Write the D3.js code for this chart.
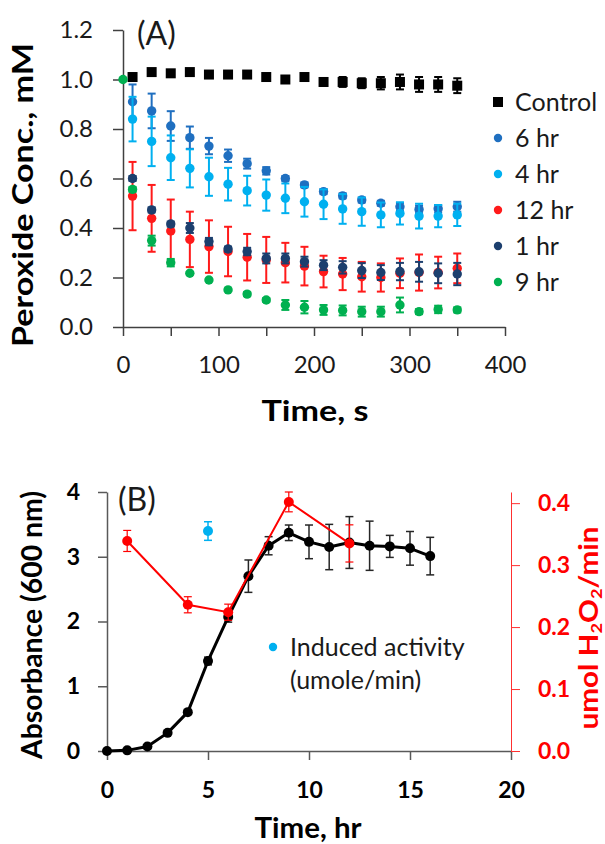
<!DOCTYPE html>
<html>
<head>
<meta charset="utf-8">
<script src="https://cdn.jsdelivr.net/npm/d3@7"></script>
<style>
  body { margin: 0; background: #fff; }
  svg { display: block; font-family: Lato, "Open Sans", sans-serif; }
</style>
</head>
<body>
<svg width="605" height="844"></svg>
<script>
// ---- panel A data: peroxide concentration (mM) vs time (s) ----
var timesA = [10, 30, 50, 70, 90, 110, 130, 150, 170, 190, 210, 230, 250, 270, 290, 310, 330, 350];
var controlVals = [1.01, 1.03, 1.025, 1.03, 1.02, 1.02, 1.02, 1.01, 1.00, 1.01, 0.99, 0.99, 0.985, 0.985, 0.99, 0.98, 0.98, 0.975];
var controlErr  = [0.005, 0.005, 0.005, 0.005, 0.005, 0.005, 0.005, 0.008, 0.012, 0.012, 0.015, 0.02, 0.02, 0.025, 0.03, 0.03, 0.03, 0.03];
var hr6Vals = [0.91, 0.873, 0.812, 0.765, 0.731, 0.692, 0.66, 0.631, 0.60, 0.574, 0.547, 0.53, 0.513, 0.50, 0.486, 0.475, 0.478, 0.486];
var hr6Err  = [0.07, 0.07, 0.06, 0.045, 0.033, 0.025, 0.02, 0.015, 0.01, 0.01, 0.01, 0.01, 0.01, 0.01, 0.015, 0.015, 0.015, 0.02];
var hr4Vals = [0.84, 0.75, 0.684, 0.641, 0.607, 0.577, 0.551, 0.533, 0.52, 0.506, 0.496, 0.477, 0.466, 0.453, 0.459, 0.448, 0.448, 0.453];
var hr4Err  = [0.09, 0.1, 0.09, 0.077, 0.077, 0.066, 0.06, 0.063, 0.06, 0.06, 0.06, 0.06, 0.057, 0.05, 0.045, 0.05, 0.045, 0.045];
var hr12Vals = [0.529, 0.439, 0.388, 0.354, 0.325, 0.305, 0.282, 0.271, 0.26, 0.246, 0.224, 0.214, 0.203, 0.2, 0.217, 0.22, 0.22, 0.237];
var hr12Err  = [0.138, 0.135, 0.127, 0.112, 0.106, 0.1, 0.094, 0.093, 0.08, 0.078, 0.064, 0.065, 0.06, 0.057, 0.06, 0.073, 0.064, 0.06];
var hr1Vals = [0.60, 0.473, 0.416, 0.40, 0.345, 0.315, 0.305, 0.277, 0.277, 0.264, 0.25, 0.241, 0.228, 0.22, 0.224, 0.223, 0.217, 0.214];
var hr1Err  = [0.01, 0.01, 0.01, 0.02, 0.015, 0.01, 0.015, 0.02, 0.02, 0.02, 0.02, 0.025, 0.03, 0.03, 0.035, 0.04, 0.04, 0.045];
// 9 hr also has the starting point at t = 0
var times9 = [0, 10, 30, 50, 70, 90, 110, 130, 150, 170, 190, 210, 230, 250, 270, 290, 310, 330, 350];
var hr9Vals = [1.0, 0.556, 0.349, 0.26, 0.217, 0.19, 0.15, 0.133, 0.109, 0.089, 0.08, 0.069, 0.067, 0.062, 0.062, 0.089, 0.062, 0.071, 0.069];
var hr9Err  = [0, 0.01, 0.02, 0.015, 0.005, 0.005, 0.005, 0.008, 0.008, 0.02, 0.025, 0.02, 0.02, 0.02, 0.02, 0.03, 0.01, 0.015, 0.01];

var legendA = ["Control", "6 hr", "4 hr", "12 hr", "1 hr", "9 hr"];
var ticksAx = [0, 50, 100, 150, 200, 250, 300, 350, 400];
var ticksAy = [0, 0.2, 0.4, 0.6, 0.8, 1.0, 1.2];

// ---- panel B data: growth (absorbance) and activity vs time (hr) ----
var timesB = [0, 1, 2, 3, 4, 5, 6, 7, 8, 9, 10, 11, 12, 13, 14, 15, 16];
var absorbVals = [0, 0.01, 0.07, 0.28, 0.6, 1.39, 2.07, 2.70, 3.17, 3.37, 3.23, 3.15, 3.22, 3.17, 3.16, 3.13, 3.01];
var absorbErr  = [0, 0, 0, 0.02, 0.03, 0.06, 0.08, 0.25, 0.14, 0.12, 0.26, 0.35, 0.4, 0.38, 0.17, 0.26, 0.29];
var activityTimes = [1, 4, 6, 9, 12];
var activityVals = [0.339, 0.236, 0.224, 0.402, 0.335];
var activityErr  = [0.017, 0.013, 0.013, 0.016, 0.03];
var inducedTimes = [5];
var inducedVals = [0.355];
var inducedErr  = [0.015];

var ticksBx = [0, 5, 10, 15, 20];
var ticksBy = [0, 1, 2, 3, 4];
var ticksBr = [0, 0.1, 0.2, 0.3, 0.4];

function main()
{
  var svg = d3.select("svg");

  // =========================== panel A ===========================
  var xA = d3.scaleLinear().domain([0, 400]).range([123, 505]);
  var yA = d3.scaleLinear().domain([0, 1.2]).range([327, 30]);

  var axisColor = "#404040";

  // y axis
  var gyA = svg.append("g")
    .attr("transform", "translate(123,0)")
    .call(d3.axisLeft(yA).tickValues(ticksAy).tickSize(10).tickSizeOuter(0).tickPadding(20)
      .tickFormat(d3.format(".1f")));
  // x axis, ticks every 50 but labels only every 100
  var gxA = svg.append("g")
    .attr("transform", "translate(0,327)")
    .call(d3.axisBottom(xA).tickValues(ticksAx).tickSize(9).tickSizeOuter(0).tickPadding(20)
      .tickFormat(function (d) { return d % 100 === 0 ? d : ""; }));
  [gyA, gxA].forEach(function (g) {
    g.select(".domain").attr("stroke", axisColor).attr("stroke-width", 1.5);
    g.selectAll(".tick line").attr("stroke", axisColor).attr("stroke-width", 1.5);
    g.selectAll("text").attr("font-size", 24).attr("fill", "#1a1a1a").attr("font-family", "Lato");
  });

  // series in legend order, later ones drawn on top
  var seriesA = [
    { name: "Control", t: timesA, v: controlVals, e: controlErr, color: "#000000", square: true },
    { name: "6 hr", t: timesA, v: hr6Vals, e: hr6Err, color: "#1f6fc0" },
    { name: "4 hr", t: timesA, v: hr4Vals, e: hr4Err, color: "#00b0f0" },
    { name: "12 hr", t: timesA, v: hr12Vals, e: hr12Err, color: "#ff1a1a" },
    { name: "1 hr", t: timesA, v: hr1Vals, e: hr1Err, color: "#1c3f6e" },
    { name: "9 hr", t: times9, v: hr9Vals, e: hr9Err, color: "#00b050" }
  ];

  seriesA.forEach(function (s) {
    var g = svg.append("g").attr("class", "series");
    errorBars(g, s.t, s.v, s.e, xA, yA, s.color, 2, 4);
    if (s.square) {
      g.selectAll("rect").data(s.t).enter().append("rect")
        .attr("x", function (d) { return xA(d) - 5; })
        .attr("y", function (d, i) { return yA(s.v[i]) - 5; })
        .attr("width", 10).attr("height", 10)
        .attr("fill", s.color);
    } else {
      g.selectAll("circle").data(s.t).enter().append("circle")
        .attr("cx", function (d) { return xA(d); })
        .attr("cy", function (d, i) { return yA(s.v[i]); })
        .attr("r", 4.7)
        .attr("fill", s.color);
    }
  });

  // legend A
  var legA = svg.append("g");
  legendA.forEach(function (name, i) {
    var s = seriesA[i];
    var cy = 102 + i * 36;
    if (s.square) {
      legA.append("rect").attr("x", 493).attr("y", cy - 5).attr("width", 10).attr("height", 10).attr("fill", s.color);
    } else {
      legA.append("circle").attr("cx", 498).attr("cy", cy).attr("r", 4.2).attr("fill", s.color);
    }
    legA.append("text").attr("x", 515).attr("y", cy + 9)
      .attr("font-size", 25).attr("fill", "#1a1a1a").text(name);
  });

  // titles A
  svg.append("text").attr("x", 137).attr("y", 45).attr("font-size", 32).attr("fill", "#1a1a1a").text("(A)");
  svg.append("text").attr("x", 315).attr("y", 421).attr("text-anchor", "middle")
    .attr("font-size", 29).attr("font-weight", "bold").attr("textLength", 107).attr("lengthAdjust", "spacingAndGlyphs")
    .text("Time, s");
  svg.append("text").attr("transform", "translate(33,195) rotate(-90)").attr("text-anchor", "middle")
    .attr("font-size", 29).attr("font-weight", "bold").attr("textLength", 304).attr("lengthAdjust", "spacingAndGlyphs")
    .text("Peroxide Conc., mM");

  // =========================== panel B ===========================
  var xB = d3.scaleLinear().domain([0, 20]).range([107, 511]);
  var yB = d3.scaleLinear().domain([0, 4]).range([751, 492]);
  var yR = d3.scaleLinear().domain([0, 0.418]).range([751, 492]);

  var gyB = svg.append("g")
    .attr("transform", "translate(107,0)")
    .call(d3.axisLeft(yB).tickValues(ticksBy).tickSize(9).tickSizeOuter(0).tickPadding(18)
      .tickFormat(d3.format("d")));
  var gxB = svg.append("g")
    .attr("transform", "translate(0,751)")
    .call(d3.axisBottom(xB).tickValues(ticksBx).tickSize(9).tickSizeOuter(0).tickPadding(22)
      .tickFormat(d3.format("d")));
  var grB = svg.append("g")
    .attr("transform", "translate(511,0)")
    .call(d3.axisRight(yR).tickValues(ticksBr).tickSize(9).tickSizeOuter(0).tickPadding(18)
      .tickFormat(d3.format(".1f")));
  [gyB, gxB].forEach(function (g) {
    g.select(".domain").attr("stroke", "#595959").attr("stroke-width", 1.5);
    g.selectAll(".tick line").attr("stroke", "#595959").attr("stroke-width", 1.5);
    g.selectAll("text").attr("font-size", 23).attr("font-weight", "bold").attr("fill", "#000").attr("font-family", "Lato");
  });
  grB.select(".domain").attr("stroke", "#ff3030").attr("stroke-width", 1);
  grB.selectAll(".tick line").attr("stroke", "#ff3030").attr("stroke-width", 1);
  grB.selectAll("text").attr("font-size", 23).attr("font-weight", "bold").attr("fill", "#ff0000").attr("font-family", "Lato");

  var line = d3.line();

  // absorbance (black, left axis)
  var gAbs = svg.append("g");
  errorBars(gAbs, timesB, absorbVals, absorbErr, xB, yB, "#262626", 1.5, 4);
  gAbs.append("path")
    .attr("d", line(timesB.map(function (t, i) { return [xB(t), yB(absorbVals[i])]; })))
    .attr("fill", "none").attr("stroke", "#000").attr("stroke-width", 3).attr("stroke-linejoin", "round");
  gAbs.selectAll("circle").data(timesB).enter().append("circle")
    .attr("cx", function (d) { return xB(d); })
    .attr("cy", function (d, i) { return yB(absorbVals[i]); })
    .attr("r", 5).attr("fill", "#000");

  // peroxidase activity (red, right axis)
  var gAct = svg.append("g");
  errorBars(gAct, activityTimes, activityVals, activityErr, xB, yR, "#ff0000", 1.2, 4);
  gAct.append("path")
    .attr("d", line(activityTimes.map(function (t, i) { return [xB(t), yR(activityVals[i])]; })))
    .attr("fill", "none").attr("stroke", "#ff0000").attr("stroke-width", 2);
  gAct.selectAll("circle").data(activityTimes).enter().append("circle")
    .attr("cx", function (d) { return xB(d); })
    .attr("cy", function (d, i) { return yR(activityVals[i]); })
    .attr("r", 5).attr("fill", "#ff0000");

  // induced activity (cyan, right axis)
  var gInd = svg.append("g");
  errorBars(gInd, inducedTimes, inducedVals, inducedErr, xB, yR, "#00b0f0", 1.5, 4);
  gInd.selectAll("circle").data(inducedTimes).enter().append("circle")
    .attr("cx", function (d) { return xB(d); })
    .attr("cy", function (d, i) { return yR(inducedVals[i]); })
    .attr("r", 5).attr("fill", "#00b0f0");

  // legend B
  svg.append("circle").attr("cx", 273).attr("cy", 647).attr("r", 4.2).attr("fill", "#00b0f0");
  svg.append("text").attr("x", 290).attr("y", 656).attr("font-size", 25).attr("fill", "#1a1a1a").text("Induced activity");
  svg.append("text").attr("x", 290).attr("y", 689).attr("font-size", 25).attr("fill", "#1a1a1a").text("(umole/min)");

  // titles B
  svg.append("text").attr("x", 118).attr("y", 511).attr("font-size", 32).attr("fill", "#1a1a1a").text("(B)");
  svg.append("text").attr("x", 308).attr("y", 838).attr("text-anchor", "middle")
    .attr("font-size", 28).attr("font-weight", "bold").attr("textLength", 107).attr("lengthAdjust", "spacingAndGlyphs")
    .text("Time, hr");
  svg.append("text").attr("transform", "translate(42,625) rotate(-90)").attr("text-anchor", "middle")
    .attr("font-size", 28).attr("font-weight", "bold").attr("textLength", 268).attr("lengthAdjust", "spacingAndGlyphs")
    .text("Absorbance (600 nm)");
  // secondary axis title, kept just inside the right edge
  var rt = svg.append("text").attr("transform", "translate(598,628) rotate(-90)").attr("text-anchor", "middle")
    .attr("font-size", 26).attr("font-weight", "bold").attr("fill", "#ff0000")
    .attr("textLength", 203).attr("lengthAdjust", "spacingAndGlyphs");
  rt.append("tspan").text("umol H");
  rt.append("tspan").attr("font-size", 16).attr("dy", 4).text("2");
  rt.append("tspan").attr("dy", -4).text("O");
  rt.append("tspan").attr("font-size", 16).attr("dy", 4).text("2");
  rt.append("tspan").attr("dy", -4).text("/min");
}

// vertical error bars with small caps
function errorBars(g, ts, vs, es, x, y, color, width, cap)
{
  ts.forEach(function (t, i) {
    if (!es[i]) return;
    var cx = x(t), top = y(vs[i] + es[i]), bot = y(vs[i] - es[i]);
    g.append("line").attr("x1", cx).attr("x2", cx).attr("y1", top).attr("y2", bot)
      .attr("stroke", color).attr("stroke-width", width);
    [top, bot].forEach(function (yy) {
      g.append("line").attr("x1", cx - cap).attr("x2", cx + cap).attr("y1", yy).attr("y2", yy)
        .attr("stroke", color).attr("stroke-width", width);
    });
  });
}

main();
</script>
</body>
</html>
